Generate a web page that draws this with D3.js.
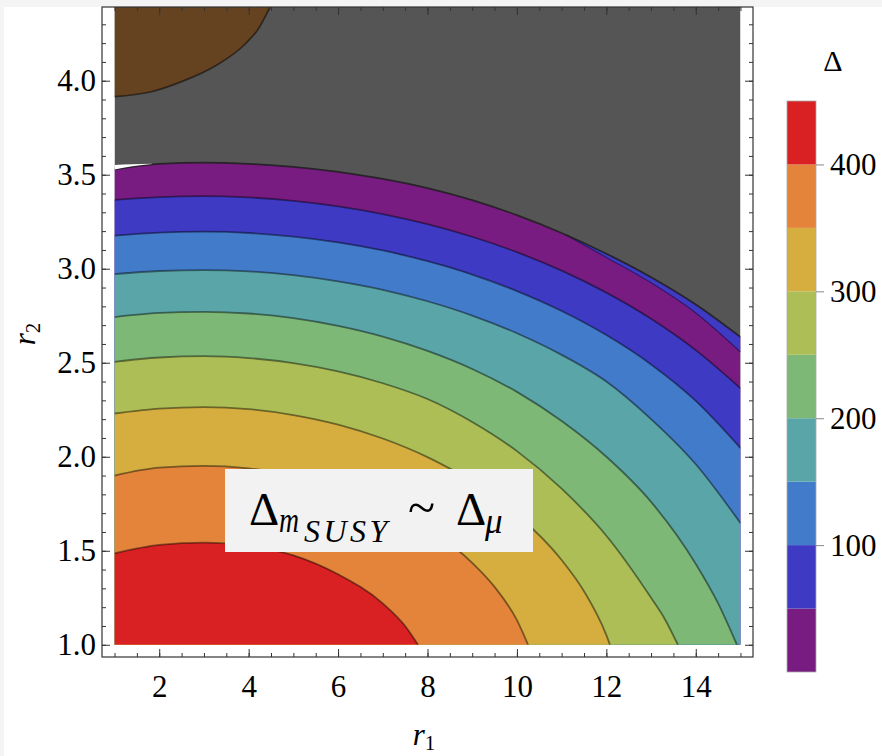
<!DOCTYPE html>
<html>
<head>
<meta charset="UTF-8">
<script src="https://cdn.jsdelivr.net/npm/d3@7"></script>
<style>
  body { margin: 0; background: #f4f4f4; }
  svg { display: block; }
  svg text { font-family: "Liberation Serif", "DejaVu Serif", serif; }
</style>
</head>
<body>
<script>
// contour boundaries, as [r1, r2]
var grayEdge = [[1,3.528],[2,3.558],[3,3.564],[4,3.558],[5,3.542],[6,3.515],[7,3.478],[8,3.429],[9,3.365],[10,3.285],[11,3.19],[12,3.08],[13,2.955],[14,2.81],[15,2.637]];
var c50  = [[1,3.366],[2,3.381],[3,3.386],[4,3.379],[5,3.361],[6,3.332],[7,3.291],[8,3.237],[9,3.17],[10,3.088],[11,2.99],[12,2.873],[13,2.734],[14,2.567],[15,2.364]];
var c100 = [[1,3.176],[2,3.192],[3,3.197],[4,3.19],[5,3.171],[6,3.14],[7,3.097],[8,3.04],[9,2.969],[10,2.881],[11,2.775],[12,2.647],[13,2.491],[14,2.297],[15,2.046]];
var c150 = [[1,2.971],[2,2.988],[3,2.993],[4,2.986],[5,2.966],[6,2.933],[7,2.888],[8,2.827],[9,2.751],[10,2.657],[11,2.542],[12,2.4],[13,2.2],[14,1.96],[15,1.647]];
var c200 = [[1,2.743],[2,2.765],[3,2.771],[4,2.762],[5,2.737],[6,2.696],[7,2.639],[8,2.563],[9,2.467],[10,2.345],[11,2.19],[12,2.0],[13,1.76],[14,1.43],[14.5,1.22],[14.92,1.0]];
var c250 = [[1,2.505],[2,2.528],[3,2.535],[4,2.525],[5,2.498],[6,2.454],[7,2.391],[8,2.307],[9,2.185],[10,2.03],[11,1.83],[12,1.58],[13,1.25],[13.3,1.14],[13.6,1.0]];
var c300 = [[1,2.23],[2,2.256],[3,2.264],[4,2.253],[5,2.222],[6,2.171],[7,2.097],[8,1.998],[9,1.867],[10,1.693],[11,1.451],[11.5,1.285],[12,1.051],[12.08,1.0]];
var c350 = [[1,1.9],[2,1.942],[3,1.951],[4,1.938],[5,1.901],[6,1.84],[7,1.749],[8,1.621],[9,1.436],[9.5,1.308],[10,1.131],[10.25,1.0]];
var c400 = [[1,1.486],[2,1.531],[3,1.543],[4,1.525],[5,1.476],[6,1.375],[7,1.22],[7.5,1.1],[7.79,1.0]];
var brownEdge = [[1,3.915],[1.8,3.94],[2.5,3.995],[3.3,4.085],[3.9,4.19],[4.2,4.27],[4.48,4.392]];
// thin indigo strip under the gray edge: r1, top, bottom
var sliver = [[11.1,3.18,3.18],[12,3.08,3.06],[13,2.955,2.925],[14,2.81,2.765],[15,2.637,2.557]];
// small white gap at the left end of the gray edge: r1, top, bottom
var whiteGap = [[1,3.552,3.528],[1.4,3.556,3.545],[1.84,3.558,3.557]];

var bandColors = ["#781c81","#3e3ac3","#437bcb","#5aa5a7","#7db877","#acbe55","#d5ae3f","#e4843a","#d92023"];
var legendBreaks = [0,50,100,150,200,250,300,350,400,450];
var legendTicks = [100,200,300,400];
var xMajor = [2,4,6,8,10,12,14];
var yMajor = [1.0,1.5,2.0,2.5,3.0,3.5,4.0];

var W = 882, H = 756;
var serif = "'Liberation Serif', 'DejaVu Serif', serif";

var svg = d3.select("body").append("svg").attr("width", W).attr("height", H);
svg.append("rect").attr("x", 4).attr("y", 7).attr("width", W - 4).attr("height", H - 7).attr("fill", "#fff");

var x = d3.scaleLinear().domain([0.72, 15.28]).range([102, 753]);
var y = d3.scaleLinear().domain([0.935, 4.392]).range([657, 7]);
var rTop = 4.392;

svg.append("clipPath").attr("id", "clip").append("rect")
  .attr("x", x(1)).attr("y", y(rTop))
  .attr("width", x(15) - x(1)).attr("height", y(1) - y(rTop));

var plot = svg.append("g").attr("clip-path", "url(#clip)");

plot.append("rect")
  .attr("x", x(1)).attr("y", y(rTop))
  .attr("width", x(15) - x(1)).attr("height", y(1) - y(rTop))
  .attr("fill", "#555555");

var curve = d3.curveMonotoneX;

plot.append("path")
  .attr("d", d3.area().curve(curve).x(d => x(d[0])).y0(d => y(d[1])).y1(y(rTop))(brownEdge))
  .attr("fill", "#654321");

var contours = [grayEdge, c50, c100, c150, c200, c250, c300, c350, c400];
var under = d3.area().curve(curve).x(d => x(d[0])).y0(y(1)).y1(d => y(d[1]));
var line = d3.line().curve(curve).x(d => x(d[0])).y(d => y(d[1]));
var strip = d3.area().curve(curve).x(d => x(d[0])).y0(d => y(d[2])).y1(d => y(d[1]));

plot.selectAll("path.band").data(contours).enter().append("path")
  .attr("class", "band")
  .attr("d", d => under(d))
  .attr("fill", (d, i) => bandColors[i]);

plot.append("path").attr("d", strip(sliver)).attr("fill", bandColors[1]);
plot.append("path")
  .attr("d", d3.line().curve(curve).x(d => x(d[0])).y(d => y(d[2]))(sliver))
  .attr("fill", "none").attr("stroke", "rgba(0,0,40,0.45)").attr("stroke-width", 1.2);

plot.selectAll("path.cline").data(contours).enter().append("path")
  .attr("class", "cline")
  .attr("d", d => line(d))
  .attr("fill", "none")
  .attr("stroke", (d, i) => i === 0 ? "rgba(30,30,30,0.85)" : "rgba(0,0,0,0.45)")
  .attr("stroke-width", 1.8);

plot.append("path").attr("d", strip(whiteGap)).attr("fill", "#fff");

plot.append("path")
  .attr("d", line(brownEdge))
  .attr("fill", "none").attr("stroke", "rgba(0,0,0,0.5)").attr("stroke-width", 1.7);

// frame with ticks on every side
var xMinor = x.ticks(30).filter(v => v >= 1 && v <= 15);
var yMinor = y.ticks(35).filter(v => v >= 1);

function addAxis(gen, scale, vals, size, tx, ty, labels, pad) {
  var a = gen(scale).tickValues(vals).tickSizeInner(-size).tickSizeOuter(0)
    .tickPadding(pad || 0).tickFormat(labels ? labels : () => "");
  var g = svg.append("g").attr("transform", "translate(" + tx + "," + ty + ")").call(a);
  g.attr("font-family", null).attr("font-size", null);
  g.select(".domain").remove();
  g.selectAll(".tick line").attr("stroke", "#333");
  g.selectAll(".tick text").style("font-family", serif).style("font-size", "31px").attr("fill", "#000");
  return g;
}
var fmt1 = d3.format(".1f");
addAxis(d3.axisBottom, x, xMinor, 4, 0, 657);
addAxis(d3.axisBottom, x, xMajor, 8, 0, 657, d3.format("d"), 18);
addAxis(d3.axisTop, x, xMinor, 4, 0, 7);
addAxis(d3.axisTop, x, xMajor, 8, 0, 7);
addAxis(d3.axisLeft, y, yMinor, 4, 102, 0);
addAxis(d3.axisLeft, y, yMajor, 8, 102, 0, fmt1, 6);
addAxis(d3.axisRight, y, yMinor, 4, 753, 0);
addAxis(d3.axisRight, y, yMajor, 8, 753, 0);

svg.append("rect").attr("x", 102).attr("y", 7).attr("width", 651).attr("height", 650)
  .attr("fill", "none").attr("stroke", "#333").attr("stroke-width", 1.2);

// axis titles
var t1 = svg.append("text").attr("x", 424).attr("y", 745).attr("text-anchor", "middle")
  .style("font-size", "31px").style("font-style", "italic").text("r");
t1.append("tspan").style("font-size", "21px").style("font-style", "normal").attr("dy", 5).text("1");
var t2 = svg.append("text").attr("transform", "translate(35,334) rotate(-90)").attr("text-anchor", "middle")
  .style("font-size", "31px").style("font-style", "italic").text("r");
t2.append("tspan").style("font-size", "21px").style("font-style", "normal").attr("dy", 5).text("2");

// colour bar legend
var ly = d3.scaleLinear().domain([0, 450]).range([672, 101]);
svg.selectAll("rect.lg").data(bandColors).enter().append("rect")
  .attr("class", "lg")
  .attr("x", 787).attr("width", 29)
  .attr("y", (d, i) => ly(legendBreaks[i + 1]))
  .attr("height", (d, i) => ly(legendBreaks[i]) - ly(legendBreaks[i + 1]))
  .attr("fill", d => d);
svg.append("rect").attr("x", 787).attr("y", ly(450)).attr("width", 29).attr("height", ly(0) - ly(450))
  .attr("fill", "none").attr("stroke", "#aaa").attr("stroke-width", 0.8);
var lg = svg.append("g").attr("transform", "translate(816,0)")
  .call(d3.axisRight(ly).tickValues(legendTicks).tickSize(8).tickPadding(6));
lg.attr("font-family", null).attr("font-size", null);
lg.select(".domain").remove();
lg.selectAll(".tick line").attr("stroke", "#888");
lg.selectAll(".tick text").style("font-family", serif).style("font-size", "31px").attr("fill", "#000");
svg.append("text").attr("x", 833).attr("y", 71).attr("text-anchor", "middle")
  .style("font-size", "30px").text("Δ");

// annotation
svg.append("rect").attr("x", 225).attr("y", 469).attr("width", 308).attr("height", 83).attr("fill", "#f2f2f2");
var ann = svg.append("text").attr("fill", "#000").style("font-size", "47px");
ann.append("tspan").attr("x", 249).attr("y", 525).text("Δ");
ann.append("tspan").attr("x", 279).attr("y", 532).style("font-size", "36px").style("font-style", "italic")
  .attr("textLength", 20).attr("lengthAdjust", "spacingAndGlyphs").text("m");
ann.append("tspan").attr("x", 304).attr("y", 542).style("font-size", "32px").style("font-style", "italic")
  .style("letter-spacing", "3.5px").text("SUSY");
ann.append("tspan").attr("x", 408).attr("y", 524).style("font-size", "50px").text("~");
ann.append("tspan").attr("x", 456).attr("y", 525).text("Δ");
ann.append("tspan").attr("x", 485).attr("y", 533).style("font-size", "35px").style("font-style", "italic").text("μ");
</script>
</body>
</html>
